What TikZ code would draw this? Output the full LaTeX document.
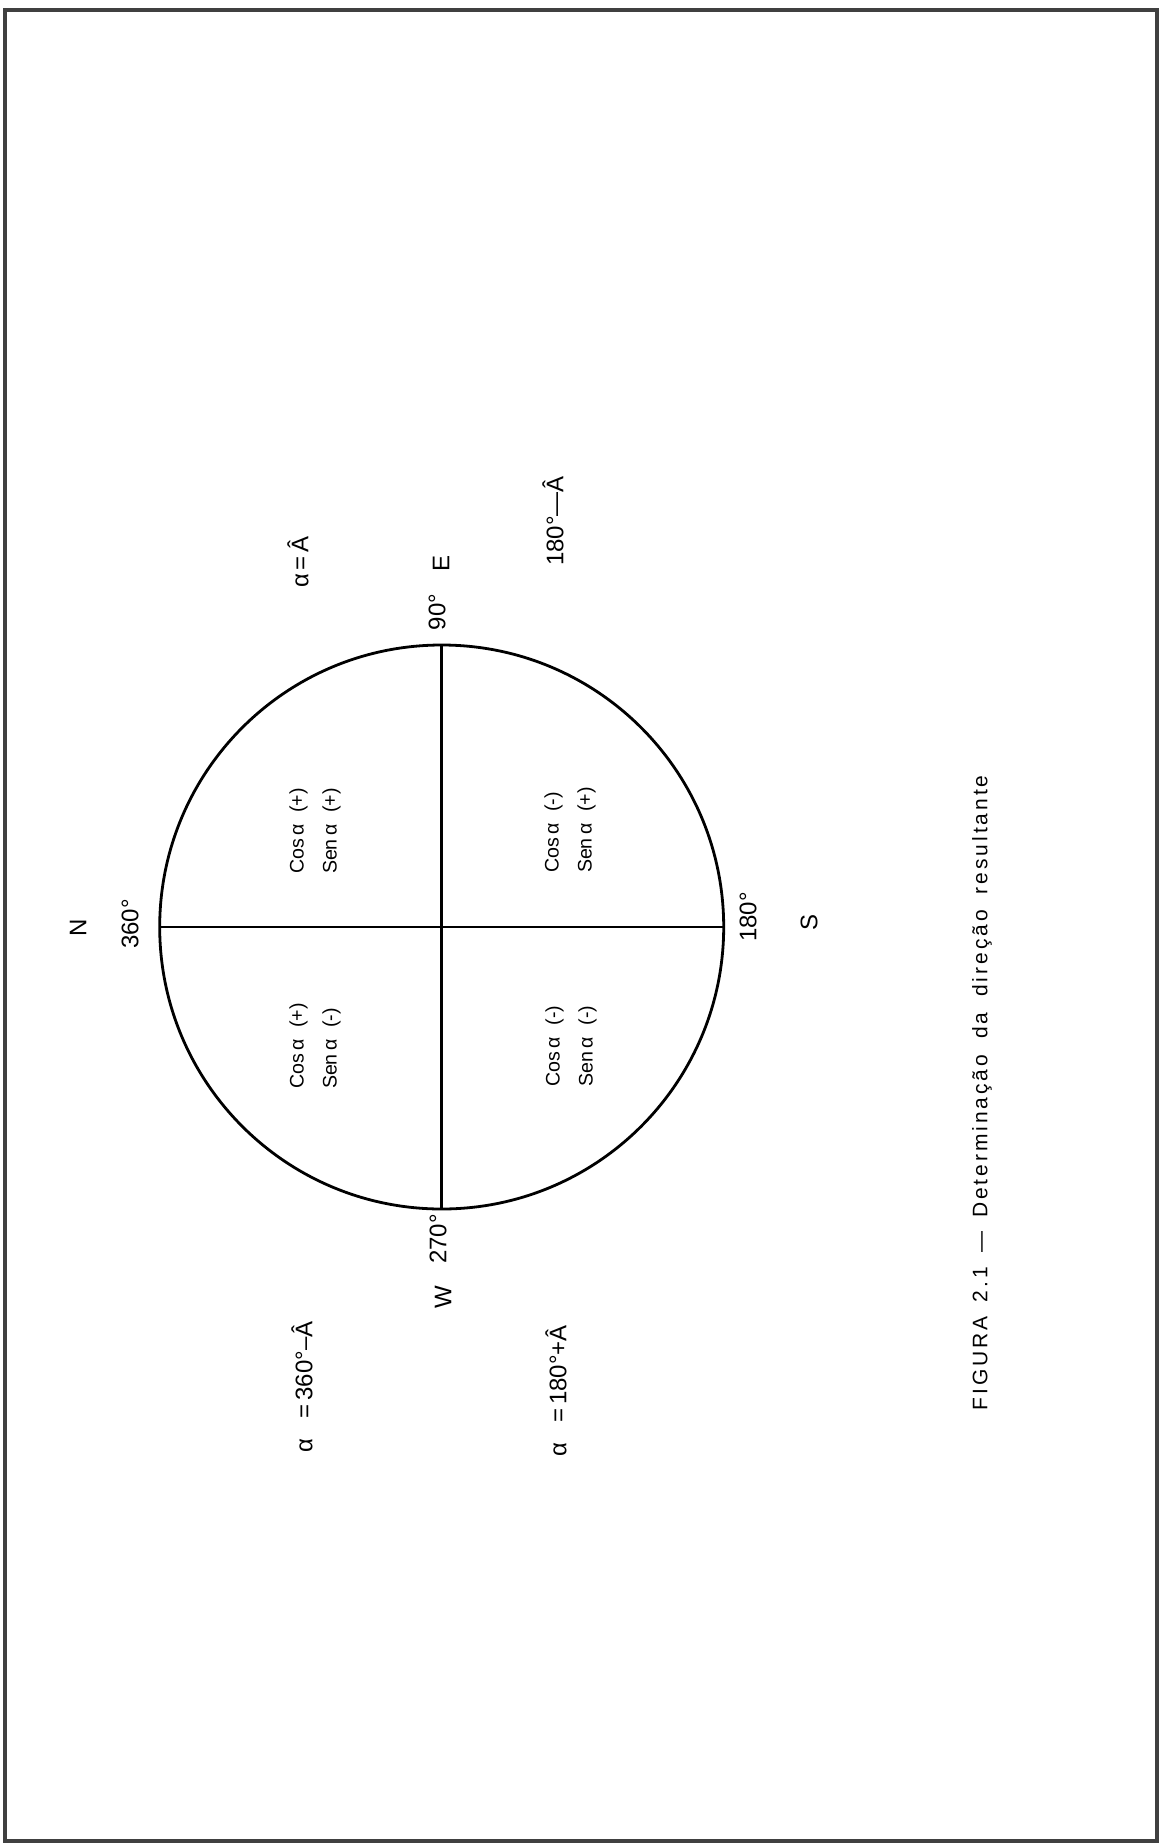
\documentclass[tikz,border=0pt]{standalone}
\usepackage{fontspec}
\setmainfont{Liberation Sans}
\begin{document}
\begin{tikzpicture}[x=0.5pt,y=-0.5pt,
  lbl/.style={rotate=90, inner sep=0pt, font=\fontsize{12}{14}\selectfont},
  quad/.style={rotate=90, inner sep=0pt, align=left, font=\fontsize{9.8}{16.5}\selectfont},
  captext/.style={rotate=90, inner sep=0pt, anchor=east, font=\fontsize{10.5}{12}\selectfont\addfontfeature{LetterSpace=14}}]
\useasboundingbox (0,0) rectangle (1161,1847);
\fill[white] (0,0) rectangle (1161,1847);
\draw[line width=2pt, black!75] (5,10) rectangle (1157,1841);
% circle and diameters
\node (C) [circle, draw, line width=1.4pt, minimum size=282pt, inner sep=0pt, outer sep=0pt] at (441.7,927) {};
\draw[line width=1.4pt] (C.north) -- (C.south);
\draw[line width=1pt] (C.west) -- (C.east);
% compass and degree labels
\node (n) [lbl] at (78,928) {N};
\node (d360) [lbl] at (130,924) {360°};
\node (d90) [lbl] at (437,612) {90°};
\node (e) [lbl] at (441,563) {E};
\node (d180) [lbl] at (748,917) {180°};
\node (s) [lbl] at (809,922) {S};
\node (d270) [lbl] at (438,1239) {270°};
\node (w) [lbl] at (443,1297) {W};
% alpha relations
\node (a1) [lbl] at (298,562) {α\,=\,Â};
\node (a2) [lbl] at (553,521) {180°—Â};
\node (a3) [lbl] at (302,1387) {α\hspace{10pt}=\,360°–Â};
\node (a4) [lbl] at (556,1391) {α\hspace{10pt}=\,180°+Â};
% quadrant texts
\node (q1) [quad] at (315,831) {Cos\,α\hspace{6pt}(+)\\Sen\,α\hspace{6pt}(+)};
\node (q2) [quad] at (570,830) {Cos\,α\hspace{6pt}(-)\\Sen\,α\hspace{6pt}(+)};
\node (q3) [quad] at (315,1046) {Cos\,α\hspace{6pt}(+)\\Sen\,α\hspace{6pt}(-)};
\node (q4) [quad] at (571,1046) {Cos\,α\hspace{6pt}(-)\\Sen\,α\hspace{6pt}(-)};
% caption
\node (capt) [captext] at (982,775) {FIGURA\hspace{7pt}2.1\hspace{7pt}—\hspace{7pt}Determinação\hspace{8pt}da\hspace{8pt}direção\hspace{8pt}resultante};
\end{tikzpicture}
\end{document}
